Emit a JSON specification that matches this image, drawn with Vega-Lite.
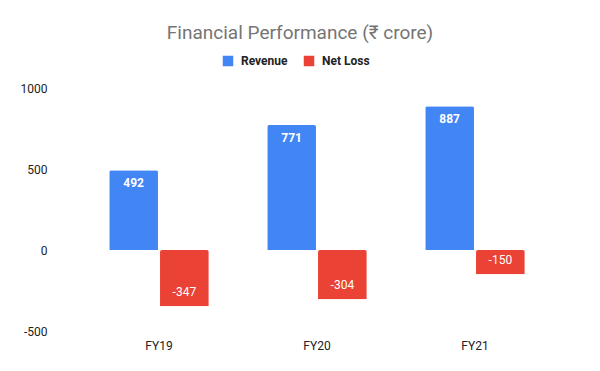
{
  "$schema": "https://vega.github.io/schema/vega-lite/v6.json",
  "width": 474,
  "height": 243,
  "autosize": {"type": "none"},
  "padding": {"left": 80, "top": 88, "right": 46, "bottom": 40},
  "background": "white",
  "config": {
    "view": {"stroke": null},
    "font": "Roboto"
  },
  "title": {
    "text": "Financial Performance (₹ crore)",
    "font": "Roboto",
    "fontSize": 19,
    "fontWeight": "normal",
    "color": "#757575",
    "anchor": "middle",
    "dx": -17,
    "offset": 12
  },
  "data": {
    "values": [
      {"year": "FY19", "series": "Revenue", "value": 492},
      {"year": "FY19", "series": "Net Loss", "value": -347},
      {"year": "FY20", "series": "Revenue", "value": 771},
      {"year": "FY20", "series": "Net Loss", "value": -304},
      {"year": "FY21", "series": "Revenue", "value": 887},
      {"year": "FY21", "series": "Net Loss", "value": -150}
    ]
  },
  "encoding": {
    "x": {
      "field": "year",
      "type": "nominal",
      "scale": {"paddingInner": 0.37, "paddingOuter": 0.185},
      "axis": {
        "title": null,
        "labelAngle": 0,
        "domain": false,
        "ticks": false,
        "labelPadding": 9,
        "labelFontSize": 12,
        "labelColor": "#222222",
        "labelFont": "Roboto"
      }
    },
    "xOffset": {
      "field": "series",
      "type": "nominal",
      "sort": ["Revenue", "Net Loss"],
      "scale": {"paddingInner": 0.04}
    },
    "y": {
      "field": "value",
      "type": "quantitative",
      "scale": {"domain": [-500, 1000], "nice": false, "zero": false},
      "axis": {
        "title": null,
        "values": [-500, 0, 500, 1000],
        "labelExpr": "'' + datum.value",
        "grid": false,
        "domain": false,
        "ticks": false,
        "labelPadding": 33,
        "labelFontSize": 12,
        "labelColor": "#222222",
        "labelFont": "Roboto"
      }
    }
  },
  "layer": [
    {
      "mark": {"type": "bar", "cornerRadiusEnd": 2},
      "encoding": {
        "color": {
          "field": "series",
          "type": "nominal",
          "sort": ["Revenue", "Net Loss"],
          "scale": {"domain": ["Revenue", "Net Loss"], "range": ["#4285F4", "#EA4335"]},
          "legend": {
            "title": null,
            "orient": "none",
            "legendX": 142,
            "legendY": -33,
            "direction": "horizontal",
            "symbolType": "square",
            "symbolSize": 110,
            "symbolStrokeWidth": 0,
            "labelFontSize": 12,
            "labelFontWeight": "bold",
            "labelColor": "#222222",
            "labelFont": "Roboto",
            "columnPadding": 15,
            "labelOffset": 7
          }
        }
      }
    },
    {
      "transform": [{"filter": "datum.series === 'Revenue'"}],
      "mark": {"type": "text", "baseline": "top", "dy": 8, "color": "white", "fontSize": 12, "fontWeight": "bold", "font": "Roboto"},
      "encoding": {"text": {"field": "value", "type": "nominal"}}
    },
    {
      "transform": [{"filter": "datum.series === 'Net Loss'"}],
      "mark": {"type": "text", "baseline": "bottom", "dy": -7, "color": "white", "fontSize": 12, "fontWeight": "normal", "font": "Roboto"},
      "encoding": {"text": {"field": "value", "type": "nominal"}}
    }
  ]
}
